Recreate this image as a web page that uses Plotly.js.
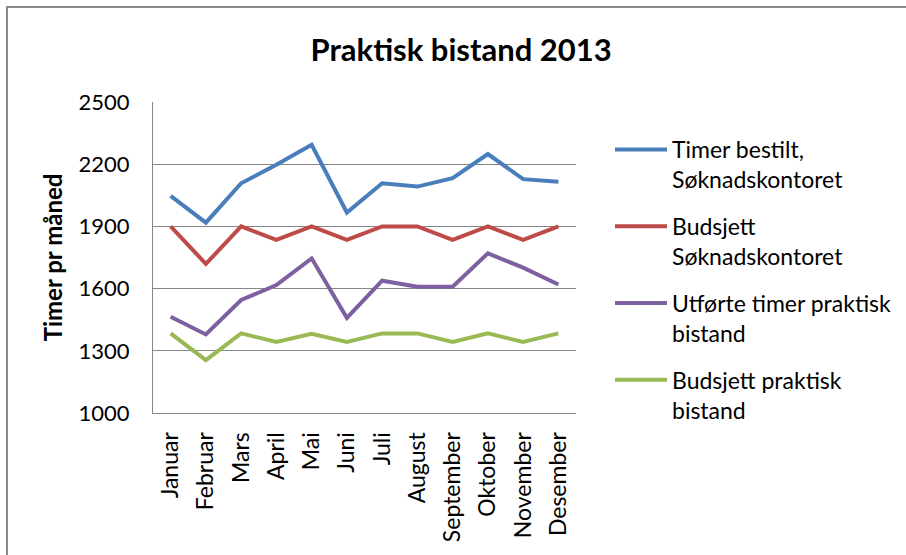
<!DOCTYPE html>
<html>
<head>
<meta charset="utf-8">
<script src="https://cdn.plot.ly/plotly-3.0.1.min.js"></script>
<style>
  html, body { margin: 0; padding: 0; background: #fff; }
  #wrap { position: relative; width: 906px; height: 555px; overflow: hidden; }
  #frame { position: absolute; left: 6px; top: 6px; width: 920px; height: 580px;
           border-left: 2px solid #8a8a8a; border-top: 2px solid #8a8a8a; pointer-events: none; }
  #chart { position: absolute; left: 0; top: 0; width: 906px; height: 555px; }
</style>
</head>
<body>
<div id="wrap">
  <div id="frame"></div>
  <div id="chart"></div>
</div>
<script>
const months = ["Januar", "Februar", "Mars", "April", "Mai", "Juni", "Juli", "August", "September", "Oktober", "November", "Desember"];
const timerBestilt = [2047, 1918, 2108, 2197, 2294, 1967, 2108, 2092, 2133, 2249, 2128, 2115];
const budsjettSoknad = [1900, 1719, 1900, 1835, 1900, 1835, 1900, 1900, 1835, 1900, 1835, 1900];
const utforteTimer = [1464, 1379, 1545, 1617, 1746, 1459, 1638, 1609, 1609, 1770, 1701, 1620];
const budsjettPraktisk = [1384, 1255, 1384, 1343, 1382, 1343, 1384, 1384, 1343, 1384, 1343, 1384];
const seriesNames = ["Timer bestilt,<br>Søknadskontoret", "Budsjett<br>Søknadskontoret", "Utførte timer praktisk<br>bistand", "Budsjett praktisk<br>bistand"];
const seriesColors = ["#4A7EBB", "#BE4B48", "#7D60A0", "#98B954"];
const yTicks = [1000, 1300, 1600, 1900, 2200, 2500];

const values = [timerBestilt, budsjettSoknad, utforteTimer, budsjettPraktisk];
const traces = values.map((v, i) => ({
  type: "scatter", mode: "lines", x: months, y: v, name: seriesNames[i],
  legendgroup: "g" + i,
  line: { color: seriesColors[i], width: 4 }
}));

const font = "Lato, 'Open Sans', sans-serif";
const layout = {
  width: 906, height: 555,
  paper_bgcolor: "rgba(0,0,0,0)", plot_bgcolor: "rgba(0,0,0,0)",
  margin: { l: 153, r: 330, t: 102, b: 142 },
  font: { family: font, size: 22, color: "#000" },
  title: { text: "<b>Praktisk bistand 2013</b>", font: { family: font, size: 31, color: "#000" },
           x: 0.509, xanchor: "center", y: 0.91, yanchor: "middle", xref: "container", yref: "container" },
  xaxis: {
    type: "category", range: [-0.5, 11.5], tickangle: -90, showgrid: false, showline: true, linecolor: "#868686", linewidth: 1,
    ticks: "", ticklabelstandoff: 9, tickfont: { family: font, size: 23, color: "#000" }, fixedrange: true
  },
  yaxis: {
    range: [1000, 2500], tickvals: yTicks, ticktext: yTicks.map(String),
    showgrid: true, gridcolor: "#868686", gridwidth: 1, zeroline: false,
    showline: true, linecolor: "#868686", linewidth: 1, ticks: "",
    ticklabelstandoff: 18, tickfont: { family: font, size: 22, color: "#000" },
    title: { text: "<b>Timer pr måned</b>", font: { family: font, size: 24, color: "#000" }, standoff: 9 }
  },
  showlegend: true,
  legend: {
    x: 610 / 906, xref: "container", y: 1 - 128 / 555, yref: "container", xanchor: "left", yanchor: "top",
    valign: "top", tracegroupgap: 14, itemwidth: 52, maxheight: 0.9,
    font: { family: font, size: 23, color: "#000" }, bgcolor: "rgba(0,0,0,0)"
  }
};

Plotly.newPlot("chart", traces, layout, { displayModeBar: false, staticPlot: true });
</script>
</body>
</html>
